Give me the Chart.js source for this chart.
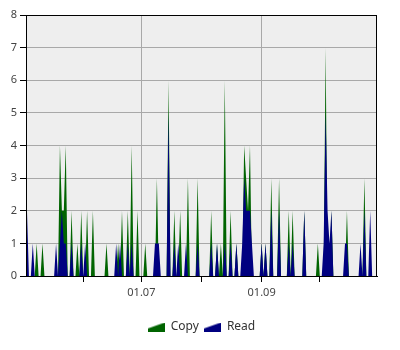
<!DOCTYPE html>
<html>
<head>
<meta charset="utf-8">
<title>Copy / Read</title>
<script src="https://cdn.jsdelivr.net/npm/chart.js@4/dist/chart.umd.min.js"></script>
<style>
  html, body { margin: 0; padding: 0; background: #ffffff; }
  #chart_canvas { display: block; }
</style>
</head>
<body>
<canvas id="chart_canvas" width="400" height="350"></canvas>
<script>
// one value per day, day 0 = 03.05 (last day 30.10)
var copyData = [
  0,0,0,0,0,1,0,0,1,0,  0,0,0,0,0,0,0,4,2,2,
  4,0,0,2,0,0,1,0,2,0,  0,2,0,0,2,0,0,0,0,0,
  0,1,0,0,0,0,0,1,0,2,  0,0,2,0,4,0,0,2,0,0,
  0,1,0,0,0,0,0,3,0,0,  0,0,0,6,0,0,2,0,0,2,
  0,0,0,3,0,0,0,0,3,0,  0,0,0,0,0,2,0,0,1,0,
  1,0,6,0,0,2,0,0,1,0,  0,0,4,3,2,4,0,0,0,0,
  0,1,0,1,0,0,3,0,0,0,  3,0,0,0,0,2,0,2,0,0,
  0,0,0,2,0,0,0,0,0,0,  1,0,0,0,7,0,0,2,0,0,
  0,0,0,0,0,2,0,0,0,0,  0,0,0,0,3,0,0,0,0,0,
  0
];
var readData = [
  2,0,0,1,0,0,0,0,0,0,  0,0,0,0,0,1,0,1,2,1,
  1,0,0,1,0,0,0,0,1,0,  1,0,0,0,0,0,0,0,0,0,
  0,0,0,0,0,0,1,0,1,0,  0,0,1,0,1,0,0,0,0,0,
  0,0,0,0,0,0,1,1,1,0,  0,0,0,5,0,0,1,0,1,0,
  0,0,1,0,0,0,0,0,1,0,  0,0,0,0,0,1,0,0,1,0,
  0,0,1,0,0,1,0,0,1,0,  0,1,3,2,2,2,1,0,0,0,
  0,1,0,1,0,0,2,0,0,0,  2,0,0,0,0,1,0,1,0,0,
  0,0,0,2,0,0,0,0,0,0,  0,0,0,1,5,2,1,2,0,0,
  0,0,0,0,1,1,0,0,0,0,  0,0,1,0,2,0,0,2,0,0,
  0
];
// month starts as day offsets, only some of them get a label
var monthTicks = [29, 59, 90, 121, 151];
var monthLabels = ['', '01.07', '', '01.09', ''];
var seriesNames = ['Copy', 'Read'];

var GREEN = '#006400';
var BLUE = '#000080';
var GRID = '#a8a8a8';

function toPoints(values) {
  var pts = [];
  for (var i = 0; i < values.length; i++) {
    pts.push({ x: i, y: values[i] });
  }
  return pts;
}

// little area wedge used as legend symbol
function wedge(color) {
  var c = document.createElement('canvas');
  c.width = 17;
  c.height = 9;
  var g = c.getContext('2d');
  g.fillStyle = color;
  g.beginPath();
  g.moveTo(0, 9);
  g.lineTo(0, 6);
  g.lineTo(17, 0);
  g.lineTo(17, 9);
  g.closePath();
  g.fill();
  return c;
}

function labelFor(value) {
  var i = monthTicks.indexOf(value);
  return i >= 0 ? monthLabels[i] : '';
}

// grey plot background and black frame
var framePlugin = {
  id: 'frame',
  afterLayout: function(chart) {
    //the legend is centred under the plot area, not under the whole canvas
    var a = chart.chartArea;
    var shift = (a.left + a.right) / 2 - (chart.legend.left + chart.legend.right) / 2;
    chart.legend.left += shift;
    chart.legend.right += shift;
  },
  beforeDraw: function(chart) {
    var a = chart.chartArea;
    var ctx = chart.ctx;
    ctx.save();
    ctx.fillStyle = '#eeeeee';
    ctx.fillRect(a.left, a.top, a.right - a.left, a.bottom - a.top);
    ctx.restore();
  },
  afterDraw: function(chart) {
    var a = chart.chartArea;
    var ctx = chart.ctx;
    ctx.save();
    ctx.strokeStyle = '#000000';
    ctx.lineWidth = 1;
    ctx.strokeRect(Math.round(a.left) + 0.5, Math.round(a.top) + 0.5,
      Math.round(a.right - a.left) - 1, Math.round(a.bottom - a.top));
    ctx.restore();
  }
};

var ctx = document.getElementById('chart_canvas').getContext('2d');
var myChart = new Chart(ctx, {
  type: 'line',
  data: {
    // Read first so it is painted over Copy, legend is reversed below
    datasets: [
      {
        label: seriesNames[1],
        data: toPoints(readData),
        borderColor: BLUE,
        backgroundColor: BLUE,
        borderWidth: 0,
        fill: 'origin',
        pointRadius: 0,
        tension: 0,
        pointStyle: wedge(BLUE)
      },
      {
        label: seriesNames[0],
        data: toPoints(copyData),
        borderColor: GREEN,
        backgroundColor: GREEN,
        borderWidth: 0,
        fill: 'origin',
        pointRadius: 0,
        tension: 0,
        pointStyle: wedge(GREEN)
      }
    ]
  },
  options: {
    responsive: false,
    animation: false,
    devicePixelRatio: 1,
    layout: { padding: { top: 15, right: 23, left: 0, bottom: 7 } },
    plugins: {
      tooltip: { enabled: false },
      legend: {
        position: 'bottom',
        reverse: true,
        labels: {
          usePointStyle: true,
          pointStyleWidth: 17,
          boxHeight: 9,
          padding: 5,
          color: '#333333',
          font: { family: 'Noto Sans', size: 12 }
        }
      }
    },
    scales: {
      x: {
        type: 'linear',
        min: -0.5,
        max: 180.5,
        afterFit: function(scale) { scale.height = 40; },
        afterBuildTicks: function(scale) {
          scale.ticks = monthTicks.map(function(v) { return { value: v }; });
        },
        ticks: {
          autoSkip: false,
          maxRotation: 0,
          padding: 4,
          color: '#444444',
          font: { family: 'Noto Sans', size: 11 },
          callback: function(value) { return labelFor(value); }
        },
        grid: {
          color: function(c) {
            return c.tick && labelFor(c.tick.value) ? GRID : 'rgba(0,0,0,0)';
          },
          tickColor: '#000000',
          tickLength: 6,
          drawOnChartArea: true
        },
        border: { color: '#000000' }
      },
      y: {
        min: 0,
        max: 8,
        afterFit: function(scale) { scale.width = 26; },
        ticks: {
          stepSize: 1,
          padding: 3,
          color: '#444444',
          font: { family: 'Noto Sans', size: 11 }
        },
        grid: {
          color: GRID,
          tickColor: '#000000',
          tickLength: 6
        },
        border: { color: '#000000' }
      }
    }
  },
  plugins: [framePlugin]
});
</script>
</body>
</html>
